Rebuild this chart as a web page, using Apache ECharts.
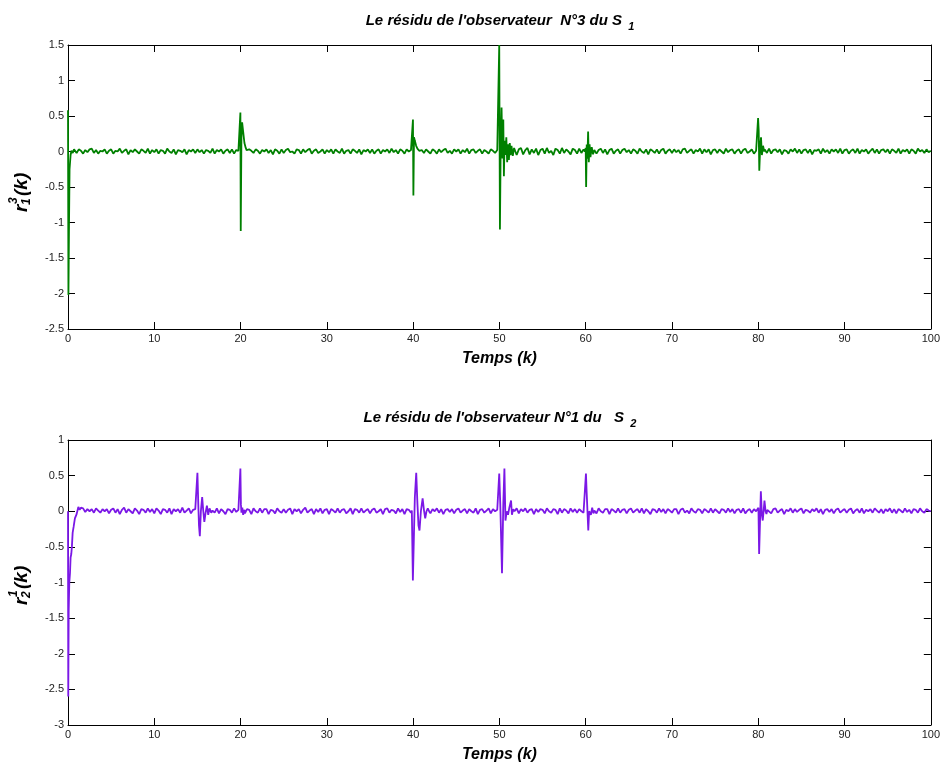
<!DOCTYPE html>
<html><head><meta charset="utf-8">
<script src="https://cdn.jsdelivr.net/npm/echarts@6/dist/echarts.min.js"></script>
<style>html,body{margin:0;padding:0;background:#fff}#c{width:943px;height:765px}</style>
</head><body><div id="c"></div>
<script>
// ---------- data ----------
const timeStep = 0.25;   // sampling step of the recorded residuals (k)
const noiseUnit = 0.01;  // noise arrays are written in hundredths

const titleTop = "{a|Le résidu de l'observateur  N°3 du S }{b|1}";
const titleBottom = "{a|Le résidu de l'observateur N°1 du   S }{b|2}";
const xName = 'Temps (k)';

// background noise of residual r_1^3 (hundredths, every 0.25 k from 0 to 100)
const topNoise = [
 0,0,0,1,-2,3,1,-3,2,-1,3,4,-2,2,-3,1,0,3,-3,1,
 3,-3,1,0,4,-2,1,3,-4,2,-1,3,0,-3,3,1,-2,4,-3,2,
 -1,3,-3,2,1,-3,4,0,-2,3,-4,2,1,-1,3,-4,2,0,3,-2,
 3,-1,2,-3,2,1,-2,4,-3,2,0,3,-3,1,3,-2,3,-3,2,1,
 0,0,0,4,3,1,-2,3,1,-3,2,0,3,-2,2,-4,3,1,-3,3,
 -2,2,4,-1,0,-3,3,2,-3,3,-1,2,4,-3,1,3,-2,0,3,-3,
 2,-1,3,-3,3,0,-2,4,-3,1,2,-3,3,1,-2,3,-4,2,0,3,
 -2,3,-3,1,3,-3,2,0,3,-2,4,-1,2,-3,3,1,-3,3,0,2,
 0,0,0,3,2,-2,3,0,-3,3,1,-3,3,-1,2,4,-2,1,-3,3,
 0,3,-3,2,-1,4,-3,2,3,-2,1,3,-3,2,0,-3,3,1,-2,2,
 0,0,0,0,0,0,0,5,-5,3,5,-4,2,5,-4,3,-2,4,-5,2,
 4,-3,5,-2,1,-5,4,2,-3,5,-2,3,0,-4,4,2,-3,4,-2,3,
 0,0,0,0,3,-3,2,4,-2,3,-4,2,4,-3,1,3,-3,2,4,-1,
 2,-3,3,1,-3,4,0,-2,3,-4,3,1,-2,3,-3,2,4,-3,1,3,
 -2,3,-1,2,-3,3,4,-2,1,3,-3,2,0,4,-3,3,-1,3,-4,2,
 3,-2,3,0,-3,4,-1,2,3,-3,1,3,-3,2,4,-2,0,3,-3,1,
 0,0,0,3,-2,4,-3,2,3,-1,3,-4,2,1,-3,3,0,4,-2,3,
 -3,2,3,-2,3,-4,2,1,3,-3,4,-1,2,-3,3,0,3,-2,4,-3,
 2,3,-3,1,3,-2,4,-3,2,0,3,-3,1,4,-2,3,-3,2,3,-1,
 3,-3,3,1,-2,4,-3,2,0,3,-3,3,1,-3,4,0,2,-2,3,-1,
 1
];

// transients of r_1^3 at the fault instants ([k, value])
const topStart = [[0,0.58],[0.05,-2.02],[0.12,-1.0],[0.18,-0.25],[0.3,-0.05],[0.4,0.01],[0.55,-0.02],[0.7,0.03]];
const topAt20 = [[19.9,0.0],[19.98,0.55],[20.02,-1.12],[20.1,0.2],[20.18,0.41],[20.3,0.28],[20.45,0.12],[20.6,0.05],[20.7,0.02]];
const topAt40 = [[39.9,0.0],[39.98,0.45],[40.03,-0.62],[40.1,0.2],[40.2,0.15],[40.35,0.08],[40.5,0.04],[40.7,0.01]];
const topAt50 = [[49.9,0.01],[49.98,1.5],[50.06,-1.1],[50.15,0.1],[50.25,0.62],[50.35,-0.1],[50.45,0.45],[50.52,-0.35],[50.6,0.15],[50.7,-0.05],[50.8,0.2],[50.9,-0.15],[51.0,0.1],[51.1,-0.12],[51.2,0.12],[51.3,-0.05],[51.4,0.08],[51.55,-0.06],[51.7,0.05]];
const topAt60 = [[59.9,0.0],[60.0,0.05],[60.05,-0.5],[60.12,0.1],[60.2,-0.1],[60.28,0.28],[60.36,-0.15],[60.45,0.1],[60.55,-0.08],[60.7,0.06],[60.85,-0.04],[61.0,0.02]];
const topAt80 = [[79.9,0.01],[79.98,0.47],[80.05,0.3],[80.12,-0.27],[80.22,0.05],[80.32,0.2],[80.42,-0.05],[80.55,0.08],[80.7,0.0]];

// background noise of residual r_2^1 (hundredths)
const bottomNoise = [
 0,0,0,0,0,5,2,4,-1,3,0,3,-2,4,1,-2,3,0,3,-3,
 2,4,-2,3,-4,2,5,-2,3,0,-3,4,1,-4,3,2,-2,4,-1,3,
 -3,4,1,-4,3,2,-2,4,-4,3,0,3,-2,5,-2,1,4,-3,2,3,
 0,0,0,0,0,0,0,3,-2,4,-3,3,0,-4,3,2,-2,4,-1,2,
 0,0,-3,3,2,-4,4,0,-2,4,-2,3,3,-4,2,1,-3,4,0,-2,
 3,-2,2,4,-4,3,0,3,-3,2,5,-2,1,3,-4,3,-1,4,-3,2,
 3,-4,3,1,-2,4,-2,2,3,-3,0,4,-4,3,2,-2,4,-2,1,3,
 -3,2,4,-2,0,3,-4,3,4,-2,2,1,-3,4,-1,3,-4,3,2,-2,
 0,0,0,0,0,0,0,3,-3,3,0,4,-2,3,-4,2,3,-1,3,-3,
 2,4,-2,1,3,-3,3,0,-2,4,-4,2,3,-2,1,4,-3,3,0,2,
 0,0,0,0,0,0,0,2,4,-3,3,0,4,-2,2,3,-4,3,-1,3,
 2,-3,4,0,-2,3,2,-4,4,-2,3,1,-3,4,-1,3,-2,3,0,-2,
 0,0,0,0,3,-3,4,0,-2,3,3,-4,3,1,-2,4,-2,2,3,-3,
 2,4,-2,1,3,-2,4,-3,3,0,-4,3,2,-2,4,-1,3,-3,3,1,
 -2,3,3,-4,2,4,-2,1,-3,4,0,-2,3,2,-3,3,1,-2,4,-2,
 3,0,-3,3,2,-2,4,-1,3,-3,2,3,-2,4,-3,1,3,-2,3,0,
 0,0,0,0,0,3,-3,3,4,-2,1,3,-4,2,0,4,-2,3,-1,2,
 4,-3,2,1,-2,3,0,4,-2,3,-4,2,3,-1,3,-3,2,4,-2,1,
 3,-2,2,4,-3,1,3,-2,4,-3,2,0,3,-2,4,1,-2,3,-3,3,
 0,4,-2,3,-3,3,1,-2,4,-1,2,-3,3,2,-2,4,0,-2,3,1,
 0
];

const bottomStart = [[0,0.0],[0.03,-2.6],[0.08,-1.4],[0.15,-1.0],[0.23,-0.87],[0.3,-0.65],[0.38,-0.6],[0.45,-0.5],[0.54,-0.3],[0.65,-0.22],[0.8,-0.1],[1.0,-0.04],[1.2,0.06],[1.35,0.02],[1.5,0.05]];
const bottomAt15 = [[14.9,0.01],[15.0,0.54],[15.1,0.1],[15.18,-0.2],[15.28,-0.35],[15.4,0.0],[15.55,0.2],[15.68,0.0],[15.8,-0.15],[15.95,-0.02],[16.1,0.08],[16.25,-0.05],[16.4,0.04],[16.6,-0.02],[16.75,0.01]];
const bottomAt20 = [[19.9,0.0],[19.98,0.6],[20.04,0.1],[20.1,-0.02],[20.2,0.05],[20.3,-0.05],[20.45,0.02]];
const bottomAt40 = [[39.85,0.01],[39.97,-0.97],[40.1,-0.3],[40.2,0.2],[40.36,0.54],[40.5,0.1],[40.62,-0.2],[40.74,-0.27],[40.9,0.0],[41.1,0.18],[41.25,0.02],[41.4,-0.1],[41.55,0.0],[41.7,0.04],[41.85,0.0]];
const bottomAt50 = [[49.9,0.0],[49.98,0.53],[50.1,0.1],[50.3,-0.87],[50.45,0.1],[50.58,0.6],[50.7,-0.13],[50.85,0.0],[51.0,-0.05],[51.15,0.05],[51.35,0.15],[51.45,-0.05],[51.6,0.03],[51.75,0.0]];
const bottomAt60 = [[59.9,0.0],[60.03,0.53],[60.1,0.3],[60.3,-0.27],[60.4,0.0],[60.5,0.02],[60.6,-0.05],[60.75,0.05],[60.9,-0.03],[61.0,0.01]];
const bottomAt80 = [[79.9,0.0],[80.02,0.05],[80.1,-0.6],[80.3,0.28],[80.42,-0.05],[80.52,-0.13],[80.62,0.0],[80.72,0.15],[80.85,0.0],[80.95,-0.04],[81.05,0.02]];

// ---------- build ----------
function buildSeries(noise, events) {
  const pts = [];
  noise.forEach((v, i) => {
    const t = i * timeStep;
    if (!events.some(e => t >= e[0][0] && t <= e[e.length - 1][0])) pts.push([t, v * noiseUnit]);
  });
  events.forEach(e => e.forEach(p => pts.push(p)));
  pts.sort((a, b) => a[0] - b[0]);
  return pts;
}
const topData = buildSeries(topNoise, [topStart, topAt20, topAt40, topAt50, topAt60, topAt80]);
const bottomData = buildSeries(bottomNoise, [bottomStart, bottomAt15, bottomAt20, bottomAt40, bottomAt50, bottomAt60, bottomAt80]);

const FF = '"Liberation Sans", Arial, sans-serif';
const lineStyle = { color: '#000', width: 1 };
const tick = { show: true, inside: true, length: 7, lineStyle: { color: '#000', width: 1 } };
const lbl = { color: '#222', fontSize: 11, fontFamily: FF };

function xAxes(gi) {
  return [
    { gridIndex: gi, type: 'value', min: 0, max: 100, interval: 10, position: 'bottom',
      axisLine: { onZero: false, lineStyle }, axisTick: tick, splitLine: { show: false },
      axisLabel: Object.assign({ margin: 4 }, lbl),
      name: xName, nameLocation: 'middle', nameGap: 22,
      nameTextStyle: { fontSize: 16, fontWeight: 'bold', fontStyle: 'italic', fontFamily: FF, color: '#000' } },
    { gridIndex: gi, type: 'value', min: 0, max: 100, interval: 10, position: 'top',
      axisLine: { onZero: false, lineStyle }, axisTick: tick, splitLine: { show: false }, axisLabel: { show: false } }
  ];
}
function yAxes(gi, mn, mx) {
  return [
    { gridIndex: gi, type: 'value', min: mn, max: mx, interval: 0.5, position: 'left',
      axisLine: { show: true, onZero: false, lineStyle }, axisTick: tick, splitLine: { show: false },
      axisLabel: Object.assign({ margin: 4 }, lbl) },
    { gridIndex: gi, type: 'value', min: mn, max: mx, interval: 0.5, position: 'right',
      axisLine: { show: true, onZero: false, lineStyle }, axisTick: tick, splitLine: { show: false }, axisLabel: { show: false } }
  ];
}

function titleText(txt, y) {
  return { type: 'text', x: 500, y: y, style: {
    text: txt, align: 'center', verticalAlign: 'middle', fill: '#000',
    rich: {
      a: { fontSize: 15, fontWeight: 'bold', fontStyle: 'italic', fontFamily: FF, lineHeight: 18, fill: '#000' },
      b: { fontSize: 11, fontWeight: 'bold', fontStyle: 'italic', fontFamily: FF, lineHeight: 11, padding: [12, 0, 0, 2], fill: '#000' }
    } } };
}
function yLabel(sup, sub, cx, cy) {
  const base = { fontWeight: 'bold', fontStyle: 'italic', fontFamily: FF, fill: '#000', verticalAlign: 'middle' };
  return { type: 'group', x: cx, y: cy, rotation: Math.PI / 2, children: [
    { type: 'text', x: -22, y: 0, style: Object.assign({ text: 'r', fontSize: 19, align: 'left' }, base) },
    { type: 'text', x: -14, y: -8, style: Object.assign({ text: sup, fontSize: 12, align: 'left' }, base) },
    { type: 'text', x: -15, y: 5, style: Object.assign({ text: sub, fontSize: 12, align: 'left' }, base) },
    { type: 'text', x: -6, y: 0, style: Object.assign({ text: '(k)', fontSize: 19, align: 'left' }, base) }
  ] };
}

const chart = echarts.init(document.getElementById('c'), null, { renderer: 'canvas' });
chart.setOption({
  animation: false,
  backgroundColor: '#fff',
  grid: [
    { left: 68, top: 45, width: 864, height: 284 },
    { left: 68, top: 440, width: 864, height: 285 }
  ],
  xAxis: [...xAxes(0), ...xAxes(1)],
  yAxis: [...yAxes(0, -2.5, 1.5), ...yAxes(1, -3, 1)],
  series: [
    { type: 'line', xAxisIndex: 0, yAxisIndex: 0, data: topData, showSymbol: false,
      lineStyle: { color: '#008000', width: 1.8 }, itemStyle: { color: '#008000' } },
    { type: 'line', xAxisIndex: 2, yAxisIndex: 2, data: bottomData, showSymbol: false,
      lineStyle: { color: '#7b18e6', width: 1.8 }, itemStyle: { color: '#7b18e6' } }
  ],
  graphic: [
    titleText(titleTop, 21),
    titleText(titleBottom, 418),
    yLabel('3', '1', 22, 190),
    yLabel('1', '2', 22, 583)
  ]
});
</script></body></html>
